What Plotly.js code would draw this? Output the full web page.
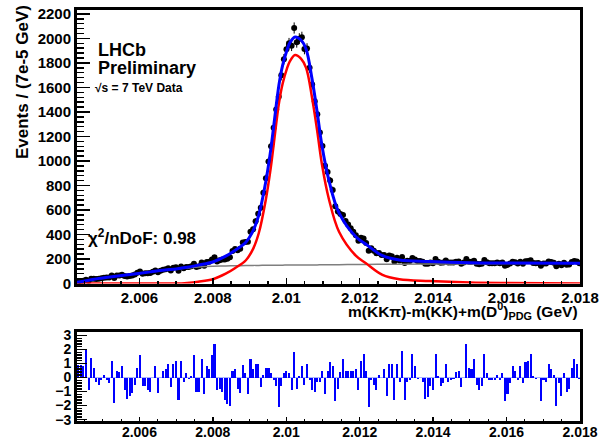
<!DOCTYPE html>
<html><head><meta charset="utf-8">
<script src="https://cdn.plot.ly/plotly-3.0.1.min.js"></script>
<style>html,body{margin:0;padding:0;background:#fff;}#chart{width:601px;height:439px;}</style>
</head><body><div id="chart"></div>
<script>
// Histogram binning (7e-5 GeV bins)
const binLow = 2.0043;
const binWidth = 0.00007;
const nBins = 196;

// Fit curves (sampled)
const curveX = [2.0043,2.0046,2.0049,2.0053,2.0058,2.0063,2.0067,2.0070,2.0073,2.0076,2.0080,2.00835,2.0086,2.0089,2.0091,2.00925,2.00944,2.00958,2.00966,2.0098,2.0099,2.01002,2.0101,2.01024,2.0104,2.01054,2.0107,2.01084,2.01097,2.01116,2.01144,2.0119,2.01217,2.01262,2.01308,2.0139,2.0150,2.0160,2.0180];
const totalFit = [10,25,42,58,75,95,110,119,132,150,176,223,270,337,433,558,829,1099,1290,1620,1780,1906,1966,2012,1987,1912,1672,1402,1128,843,574,380,321,227,192,179,169,167,166];
const signalFit = [0,0,0,0,0,0,0,0,5,15,35,80,125,190,285,410,680,950,1140,1470,1630,1755,1815,1865,1835,1760,1520,1250,975,690,420,225,165,70,35,20,8,4,1];
const bkgFit = [10,25,42,58,75,95,110,119,127,135,141,143,145,147,148,148,149,149,150,150,150,151,151,151,152,152,152,152,153,153,154,155,156,157,157,159,161,163,165];

// Data (events per bin)
const dataY = [
15,18,22,31,21,38,38,36,39,44,
48,49,50,65,45,65,66,72,61,58,
62,65,74,87,99,80,83,83,85,97,
107,91,105,113,117,124,107,128,132,104,
138,125,134,134,140,162,135,140,172,146,
175,178,195,214,179,190,196,196,203,214,
266,281,272,283,334,338,340,423,443,509,
569,618,741,859,996,1121,1271,1420,1524,1699,
1830,1912,1960,1941,2085,1969,1998,2010,1914,1917,
1761,1625,1488,1381,1233,1122,962,910,840,764,
631,588,568,560,511,482,452,422,394,349,
373,367,330,268,288,268,246,250,232,233,
199,228,222,179,211,188,217,168,185,184,
209,196,183,183,178,161,161,171,166,201,
178,169,171,188,171,171,172,178,179,162,
171,201,178,177,186,162,157,161,191,173,
165,165,165,171,165,172,146,152,163,178,
174,164,177,162,181,183,189,168,166,167,
145,164,163,180,175,170,141,161,149,170,
153,156,175,183,179,165];

// Pulls per bin
const pullY = [
0.9,0.9,0.8,2.0,-0.9,1.4,0.7,-0.3,-0.5,-0.2,
0.2,-0.2,-0.4,1.2,-1.8,0.5,0.4,0.8,-0.9,-1.5,
-1.3,-1.1,-0.5,0.7,1.6,-0.6,-0.6,-0.9,-1.0,0.0,
0.8,-1.1,0.0,0.5,0.6,1.0,-0.7,1.0,1.2,-1.6,
1.2,-0.3,0.3,-0.1,0.1,1.6,-1.0,-1.0,1.3,-1.2,
0.8,0.6,1.6,2.4,-0.9,-0.8,-1.0,-1.6,-1.9,-2.0,
0.5,0.6,-0.8,-1.1,0.9,0.3,-1.2,1.3,0.6,1.0,
1.0,-0.7,0.2,0.7,0.7,0.3,-0.2,-0.6,-2.1,-0.6,
0.3,0.5,0.3,-0.9,1.8,-0.8,0.1,
0.8,-0.5,1.0,-0.2,-0.9,-1.0,-0.3,-0.3,0.5,-1.2,
0.5,1.1,0.8,-1.7,-0.8,0.4,1.3,0.5,0.5,0.5,
0.5,0.6,-0.9,1.2,1.7,0.5,-2.1,-0.2,-0.5,-0.9,
0.2,0.0,0.6,-1.3,1.0,1.0,-1.6,1.0,-0.3,1.9,
-1.6,-0.3,-0.2,1.7,0.8,-0.1,0.0,-0.3,-1.5,-1.4,
-0.6,-0.9,1.7,0.1,-0.6,-0.4,1.0,-0.3,-0.2,-0.1,
0.4,0.5,-0.7,0.0,2.4,0.7,0.6,1.3,-0.5,-0.9,
-0.6,1.7,0.3,-0.2,-0.2,-0.2,0.2,-0.2,0.3,-1.7,
-1.2,-0.4,0.8,0.5,-0.2,0.8,-0.4,1.1,1.2,1.7,
0.1,-0.1,0.0,-1.7,-0.2,-0.3,1.0,0.6,0.2,-2.0,
-0.4,-1.3,0.3,-1.0,-0.8,0.7,1.3,1.0,-0.1];

const binCenters = [];
for (let k = 0; k < nBins; k++) binCenters.push(binLow + binWidth * (k + 0.5));

const F = 'Liberation Sans, Arial, Helvetica, sans-serif';
const traces = [
  {x: binCenters, y: dataY, type:'scatter', mode:'markers', xaxis:'x', yaxis:'y',
   marker:{color:'#000', size:6}, error_y:{type:'sqrt', color:'#000', thickness:1, width:0}, hoverinfo:'skip'},
  {x: curveX, y: bkgFit, type:'scatter', mode:'lines', xaxis:'x', yaxis:'y', line:{color:'#7f7f7f', width:1.5, shape:'spline', smoothing:1}},
  {x: curveX, y: signalFit, type:'scatter', mode:'lines', xaxis:'x', yaxis:'y', line:{color:'#ff0000', width:2.5, shape:'spline', smoothing:1}},
  {x: curveX, y: totalFit, type:'scatter', mode:'lines', xaxis:'x', yaxis:'y', line:{color:'#0000ff', width:3, shape:'spline', smoothing:1}},
  {x: binCenters, y: pullY, type:'bar', xaxis:'x2', yaxis:'y2', width: binWidth*0.8, marker:{color:'#0000ff', line:{width:0}}}
];

const axCommon = {showline:true, linewidth:3, linecolor:'#000', mirror:true, showgrid:false, zeroline:false,
  ticks:'inside', tickcolor:'#000'};
const layout = {
  width:601, height:439, margin:{l:77, r:21, t:10, b:18},
  paper_bgcolor:'#fff', plot_bgcolor:'#fff', showlegend:false, bargap:0,
  font:{family:F, color:'#000'},
  xaxis: Object.assign({}, axCommon, {domain:[0,1], anchor:'y', range:[2.0043,2.018], tick0:2.006, dtick:0.002,
    ticklen:6, tickwidth:1.5, ticklabelstandoff:-2, tickfont:{family:F, size:15, weight:'bold'},
    minor:{dtick:0.0005, ticks:'inside', ticklen:3, tickcolor:'#000', tickwidth:1.5}}),
  yaxis: Object.assign({}, axCommon, {domain:[0.3345,1], anchor:'x', range:[0,2232], dtick:200, tick0:0,
    ticklen:13, tickwidth:1.5, tickfont:{family:F, size:15, weight:'bold'},
    minor:{dtick:40, ticks:'inside', ticklen:7, tickcolor:'#000', tickwidth:1.5}}),
  xaxis2: Object.assign({}, axCommon, {domain:[0,1], anchor:'y2', range:[2.0043,2.018], tick0:2.006, dtick:0.002,
    ticklen:4, tickwidth:1.5, ticklabelstandoff:-4, tickfont:{family:F, size:14, weight:'bold'},
    minor:{dtick:0.0005, ticks:'inside', ticklen:2, tickcolor:'#000', tickwidth:1}}),
  yaxis2: Object.assign({}, axCommon, {domain:[0,0.2165], anchor:'x2', range:[-3.1,3.25], dtick:1, tick0:0,
    ticklen:10, tickwidth:1.5, tickfont:{family:F, size:14, weight:'bold'},
    zeroline:true, zerolinecolor:'#aab4ff', zerolinewidth:1,
    minor:{dtick:0.2, ticks:'inside', ticklen:5, tickcolor:'#000', tickwidth:1.5}}),
  annotations:[
    {xref:'paper', yref:'paper', x:0.0378, y:0.9027, xanchor:'left', yanchor:'middle', showarrow:false,
     text:'LHCb', font:{family:F, size:18, weight:'bold'}},
    {xref:'paper', yref:'paper', x:0.0378, y:0.8589, xanchor:'left', yanchor:'middle', showarrow:false,
     text:'Preliminary', font:{family:F, size:18, weight:'bold'}},
    {xref:'paper', yref:'paper', x:0.032, y:0.8102, xanchor:'left', yanchor:'middle', showarrow:false,
     text:'√s = 7 TeV Data', font:{family:F, size:12, weight:'bold'}},
    {xref:'paper', yref:'paper', x:0.0179, y:0.4477, xanchor:'left', yanchor:'middle', showarrow:false,
     text:'χ<sup>2</sup>/nDoF: 0.98', font:{family:F, size:17, weight:'bold'}},
    {xref:'paper', yref:'paper', x:-0.1093, y:0.8248, xanchor:'center', yanchor:'middle', showarrow:false, textangle:-90,
     text:'Events / (7e-5 GeV)', font:{family:F, size:17, weight:'bold'}},
    {xref:'paper', yref:'paper', x:1.0, y:0.268, xanchor:'right', yanchor:'middle', showarrow:false,
     text:'m(KKπ)-m(KK)+m(D<sup>0</sup>)<sub>PDG</sub> (GeV)', font:{family:F, size:15.5, weight:'bold'}}
  ]
};
Plotly.newPlot('chart', traces, layout, {staticPlot:true, displayModeBar:false});
</script></body></html>
